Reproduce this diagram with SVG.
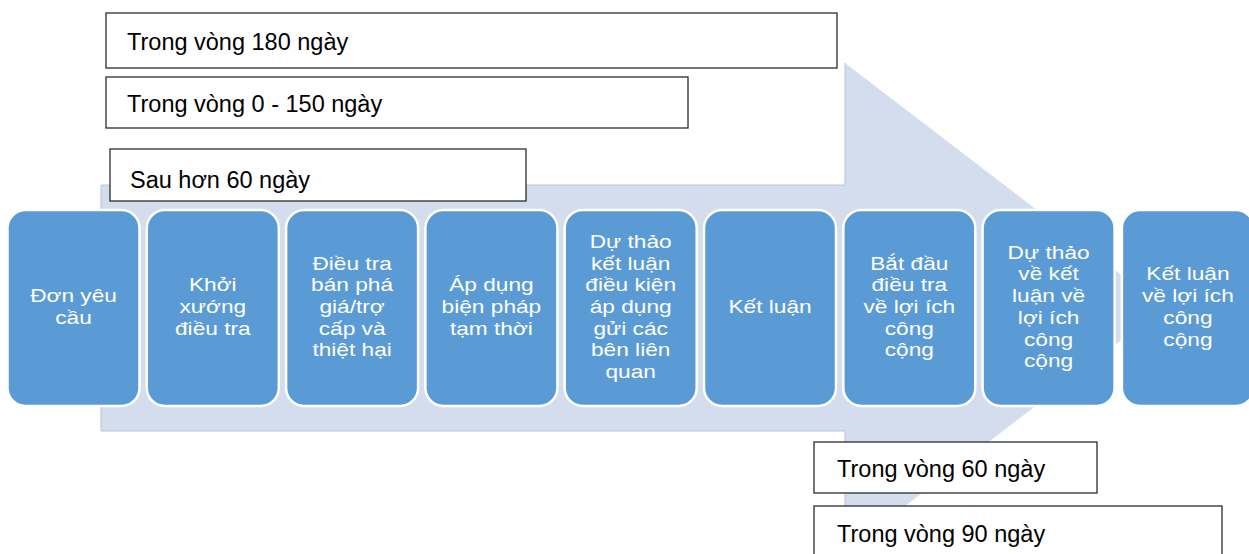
<svg xmlns="http://www.w3.org/2000/svg" width="1249" height="554" viewBox="0 0 1249 554">
  <style>
    .step rect { fill: #5B9BD5; stroke: #FFFFFF; stroke-width: 2.5; }
    .step text { fill: #FFFFFF; font-family: "Liberation Sans", Arial, sans-serif; font-size: 18px; text-anchor: middle; }
    .note rect { fill: #FFFFFF; stroke: #2B2B2B; stroke-width: 1.3; }
    .note text { fill: #000000; font-family: "Liberation Sans", Arial, sans-serif; font-size: 23.5px; }
  </style>

  <!-- background process arrow -->
  <g id="arrow">
    <polygon points="101,185 845,185 845,63 1164,307.5 845,552 845,431 101,431" fill="#D3DDEE"/>
    <polyline points="101,431 101,185 845,185 845,63" fill="none" stroke="#BCC5D3" stroke-width="1"/>
    <polyline points="101,431 845,431 845,552" fill="none" stroke="#BCC5D3" stroke-width="1"/>
  </g>

  <!-- time-span notes -->
  <g id="note-180" class="note">
    <rect x="106" y="13" width="731" height="55"/>
    <text x="127" y="50">Trong vòng 180 ngày</text>
  </g>
  <g id="note-0-150" class="note">
    <rect x="106" y="77" width="582" height="51"/>
    <text x="127" y="112">Trong vòng 0 - 150 ngày</text>
  </g>
  <g id="note-60-after" class="note">
    <rect x="110" y="149" width="416" height="52"/>
    <text x="130" y="188">Sau hơn 60 ngày</text>
  </g>

  <!-- process steps -->
  <g id="step-1" class="step">
    <rect x="7.5" y="210" width="132" height="196" rx="18"/>
    <g transform="matrix(1.26 0 0 1 73.5 0)">
      <text x="0" y="302">Đơn yêu</text>
      <text x="0" y="323.7">cầu</text>
    </g>
  </g>
  <g id="step-2" class="step">
    <rect x="146.8" y="210" width="132" height="196" rx="18"/>
    <g transform="matrix(1.26 0 0 1 212.8 0)">
      <text x="0" y="291.3">Khởi</text>
      <text x="0" y="313">xướng</text>
      <text x="0" y="334.7">điều tra</text>
    </g>
  </g>
  <g id="step-3" class="step">
    <rect x="286.1" y="210" width="132" height="196" rx="18"/>
    <g transform="matrix(1.26 0 0 1 352.1 0)">
      <text x="0" y="269.6">Điều tra</text>
      <text x="0" y="291.3">bán phá</text>
      <text x="0" y="313">giá/trợ</text>
      <text x="0" y="334.7">cấp và</text>
      <text x="0" y="356.4">thiệt hại</text>
    </g>
  </g>
  <g id="step-4" class="step">
    <rect x="425.4" y="210" width="132" height="196" rx="18"/>
    <g transform="matrix(1.26 0 0 1 491.4 0)">
      <text x="0" y="291.3">Áp dụng</text>
      <text x="0" y="313">biện pháp</text>
      <text x="0" y="334.7">tạm thời</text>
    </g>
  </g>
  <g id="step-5" class="step">
    <rect x="564.7" y="210" width="132" height="196" rx="18"/>
    <g transform="matrix(1.26 0 0 1 630.7 0)">
      <text x="0" y="247.9">Dự thảo</text>
      <text x="0" y="269.6">kết luận</text>
      <text x="0" y="291.3">điều kiện</text>
      <text x="0" y="313">áp dụng</text>
      <text x="0" y="334.7">gửi các</text>
      <text x="0" y="356.4">bên liên</text>
      <text x="0" y="378.1">quan</text>
    </g>
  </g>
  <g id="step-6" class="step">
    <rect x="704" y="210" width="132" height="196" rx="18"/>
    <g transform="matrix(1.26 0 0 1 770 0)">
      <text x="0" y="313">Kết luận</text>
    </g>
  </g>
  <g id="step-7" class="step">
    <rect x="843.3" y="210" width="132" height="196" rx="18"/>
    <g transform="matrix(1.26 0 0 1 909.3 0)">
      <text x="0" y="269.6">Bắt đầu</text>
      <text x="0" y="291.3">điều tra</text>
      <text x="0" y="313">về lợi ích</text>
      <text x="0" y="334.7">công</text>
      <text x="0" y="356.4">cộng</text>
    </g>
  </g>
  <g id="step-8" class="step">
    <rect x="982.6" y="210" width="132" height="196" rx="18"/>
    <g transform="matrix(1.26 0 0 1 1048.6 0)">
      <text x="0" y="258.8">Dự thảo</text>
      <text x="0" y="280.5">về kết</text>
      <text x="0" y="302.2">luận về</text>
      <text x="0" y="323.9">lợi ích</text>
      <text x="0" y="345.6">công</text>
      <text x="0" y="367.3">cộng</text>
    </g>
  </g>
  <g id="step-9" class="step">
    <rect x="1121.9" y="210" width="132" height="196" rx="18"/>
    <g transform="matrix(1.26 0 0 1 1187.9 0)">
      <text x="0" y="280.5">Kết luận</text>
      <text x="0" y="302.2">về lợi ích</text>
      <text x="0" y="323.9">công</text>
      <text x="0" y="345.6">cộng</text>
    </g>
  </g>

  <!-- later time-span notes -->
  <g id="note-60" class="note">
    <rect x="814" y="442" width="283" height="51"/>
    <text x="837" y="477">Trong vòng 60 ngày</text>
  </g>
  <g id="note-90" class="note">
    <rect x="814" y="506" width="408" height="60"/>
    <text x="837" y="542">Trong vòng 90 ngày</text>
  </g>
</svg>
